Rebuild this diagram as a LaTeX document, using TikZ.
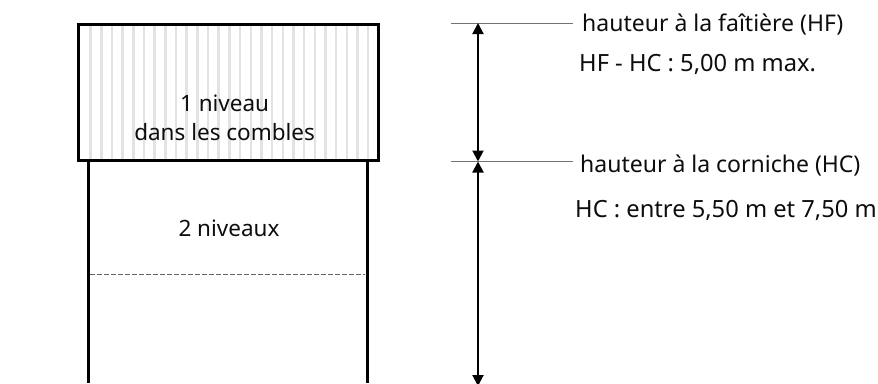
\documentclass[tikz,border=0pt]{standalone}
\usepackage{fontspec}
\setmainfont{Noto Sans}
\usetikzlibrary{arrows.meta}
\tikzset{
  lbl/.style={inner sep=0pt,font=\fontsize{23}{23}\selectfont,text=black!95,anchor=base west},
  lblb/.style={inner sep=0pt,font=\fontsize{23.7}{23.7}\selectfont,text=black!95,anchor=base west},
  ctr/.style={inner sep=0pt,font=\fontsize{22.5}{22.5}\selectfont,text=black!95,anchor=base,align=center},
  wall/.style={line width=3pt,black},
  roof/.style={line width=3pt,black},
  stripe/.style={line width=2.5pt,black!11},
  guide/.style={line width=1pt,black!55},
  floor/.style={line width=1pt,black!60,dash pattern=on 5pt off 2pt},
  dim/.style={line width=2pt,black,{Triangle[length=11pt,width=11pt]}-{Triangle[length=11pt,width=11pt]}}
}
\begin{document}
\begin{tikzpicture}[x=1pt,y=-1pt]
\useasboundingbox (0,0) rectangle (878,383);
\clip (0,0) rectangle (878,383);
\foreach \i in {0,...,26}{\draw[stripe] ({90.7+\i*10.67},24) -- ({90.7+\i*10.67},160);}
\coordinate (wallTL) at (88,160);
\coordinate (wallBL) at (88,383);
\coordinate (wallTR) at (367,160);
\coordinate (wallBR) at (367,383);
\draw[wall] (wallTL) -- (wallBL);
\draw[wall] (wallTR) -- (wallBR);
\draw[roof] (78,24) rectangle (378,160);
\coordinate (floorL) at (90,274);
\coordinate (floorR) at (365,274);
\draw[floor] (floorL) -- (floorR);
\node[ctr] (combles1) at (224.6,111.5) {1 niveau};
\node[ctr] (combles2) at (224.6,140.5) {dans les combles};
\node[ctr] (niveaux) at (229,236.5) {2 niveaux};
\coordinate (gTa) at (451,23);
\coordinate (gTb) at (573,23);
\coordinate (gCa) at (451,161.5);
\coordinate (gCb) at (573,161.5);
\draw[guide] (gTa) -- (gTb);
\draw[guide] (gCa) -- (gCb);
\coordinate (dT) at (478,23);
\coordinate (dC) at (478,161.5);
\coordinate (dB) at (478,386);
\draw[dim] (dT) -- (dC);
\draw[dim] (dC) -- (dB);
\node[lbl] (hf) at (582,31) {hauteur à la faîtière (HF)};
\node[lblb] (hfhc) at (579,71) {HF - HC : 5,00 m max.};
\node[lbl] (hc) at (580,172) {hauteur à la corniche (HC)};
\node[lblb] (hcv) at (575,217.5) {HC : entre 5,50 m et 7,50 m};
\end{tikzpicture}
\end{document}
